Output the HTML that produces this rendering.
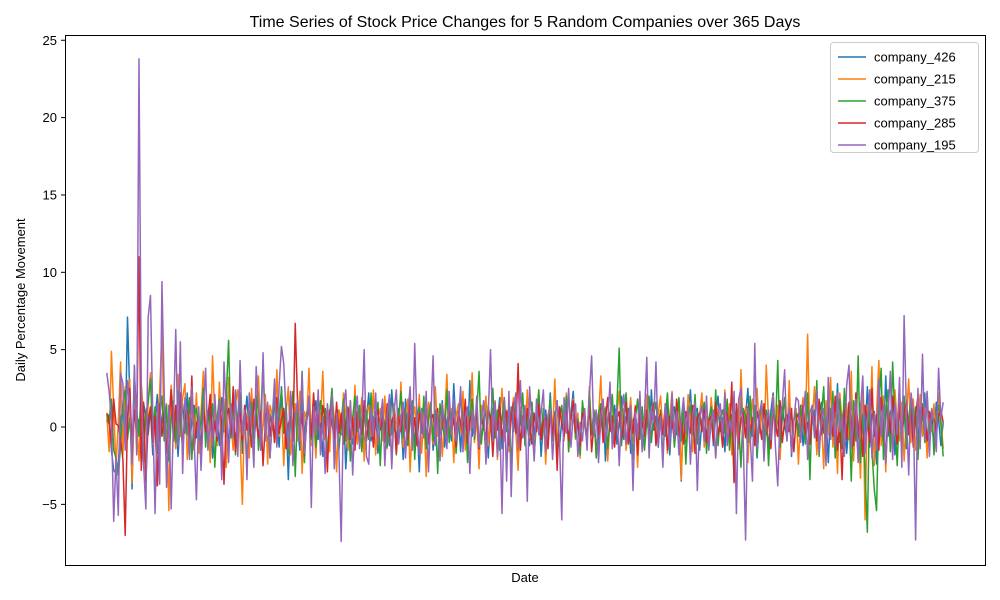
<!DOCTYPE html>
<html><head><meta charset="utf-8"><style>
body{margin:0;background:#fff;}
svg{display:block;font-family:"Liberation Sans","DejaVu Sans",sans-serif;}
</style></head><body>
<svg id="chart" width="1000" height="600" viewBox="0 0 1000 600">
<rect width="1000" height="600" fill="#fff"/>
<text x="525" y="27" font-size="16" text-anchor="middle">Time Series of Stock Price Changes for 5 Random Companies over 365 Days</text>
<g id="plot"></g>
<g id="yaxis"></g>
<rect x="65.5" y="35.5" width="920" height="530" fill="none" stroke="#000" stroke-width="1"/>
<text x="525" y="582" font-size="13" text-anchor="middle">Date</text>
<text transform="translate(25,300) rotate(-90)" font-size="13" text-anchor="middle">Daily Percentage Movement</text>
<g id="legend"></g>
</svg>
<script>
const seriesNames = ["company_426","company_215","company_375","company_285","company_195"];
const yTicks = [-5,0,5,10,15,20,25];
const s426 = [0.3,0.8,-1.5,-2.8,-3.0,-2.5,0.5,1.2,-1.0,7.1,2.0,-4.0,3.9,-1.2,0.5,-2.3,1.5,0.8,-0.5,1.2,
-1.8,0.6,2.1,-0.9,0.4,1.7,-1.3,0.2,2.5,-0.8,1.1,-1.9,0.7,1.5,-0.4,2.2,-1.1,0.3,1.4,-0.7,
0.9,-1.5,1.8,0.2,-0.6,1.3,-2.0,0.8,0.5,-1.2,1.9,-0.3,2.4,-1.4,0.6,1.1,-0.9,0.3,1.6,-1.7,
0.4,2.0,-0.5,1.2,-1.1,0.7,2.3,-0.8,0.1,1.5,-1.6,0.9,-0.2,1.8,0.5,-1.3,2.6,-0.4,0.8,-3.4,
1.0,-0.7,1.3,0.2,-1.5,2.1,-0.6,0.9,1.4,-1.0,0.3,1.7,-0.8,0.5,-1.9,1.2,0.6,-0.4,2.0,-1.3,
0.7,1.1,-0.5,1.4,-2.7,0.2,0.9,-1.1,1.6,-0.3,0.8,1.3,-1.4,0.4,2.2,-0.9,0.6,1.0,-1.7,0.3,
1.5,-0.6,0.9,-1.2,2.4,0.1,-0.8,1.2,0.5,-2.1,1.8,-0.4,0.7,1.1,-1.0,0.3,-2.9,0.9,1.4,-0.7,
0.6,1.2,-1.5,0.2,0.8,-0.5,1.7,-1.3,0.4,1.0,-0.9,2.8,-0.2,0.7,-1.6,1.3,0.5,-1.1,3.0,-0.6,
0.4,1.1,-1.3,0.8,-0.2,1.5,-2.0,0.6,1.2,-0.7,0.3,1.9,-1.4,0.5,0.9,-0.8,1.3,-0.3,2.1,-1.6,
0.7,-0.4,1.0,0.2,-1.2,1.6,-0.6,0.8,1.4,-1.9,0.3,1.1,-0.5,2.2,-0.9,0.6,1.7,-1.3,0.4,-0.2,
1.2,-1.0,0.9,2.3,-0.7,0.5,-1.5,1.3,0.1,-0.8,1.8,-0.4,0.7,1.0,-1.2,0.3,1.5,-2.2,0.6,0.9,
-0.5,1.4,-1.1,0.2,2.0,-0.8,0.6,1.2,-1.7,0.4,0.8,-0.3,1.6,-1.4,0.5,1.1,-0.9,2.4,-0.2,0.7,
-1.3,1.0,0.3,-0.6,1.5,-1.8,0.8,1.3,-0.5,0.2,-3.5,1.7,-1.0,0.6,2.4,-0.4,0.9,1.2,-1.5,0.3,
1.6,-0.7,0.5,1.0,-1.2,0.8,2.0,-0.3,0.6,-1.6,1.4,0.2,-0.9,1.1,0.5,-1.3,1.8,-0.4,0.7,2.5,
-1.0,0.3,1.2,-2.0,0.6,1.5,-0.8,0.4,-1.4,1.0,2.2,-0.5,0.8,-1.1,1.3,0.1,-0.7,1.7,-1.9,0.5,
0.9,-0.3,1.4,-1.2,0.6,2.1,-0.8,0.3,1.1,-1.5,0.7,1.6,-0.4,0.9,-2.3,1.2,0.4,-0.6,2.8,-1.0,
0.5,1.3,-1.7,0.2,1.8,-0.9,0.6,-2.1,1.5,0.3,-0.5,2.6,-1.3,0.8,1.0,-2.4,1.7,0.4,-1.1,3.3,
-0.6,0.9,1.5,-1.8,0.2,2.0,-0.7,1.1,-1.4,0.5,1.8,-0.3,0.7,-1.0,1.3,0.4,2.2,-1.6,0.8,0.1,
-0.9,1.6,0.5,-1.2,0.3];
const s215 = [0.8,-1.6,4.9,1.2,-2.5,0.3,4.2,-1.8,2.6,-0.5,3.1,-3.6,1.4,0.2,-2.2,2.8,0.6,-3.4,1.7,3.5,
-1.1,0.4,-3.8,2.3,6.2,-0.9,1.5,-5.4,2.7,0.8,-1.4,3.4,-0.6,1.9,2.8,-2.1,0.5,1.3,-0.8,2.2,
-1.7,0.9,3.6,-0.4,1.1,-2.3,4.6,0.7,-1.2,2.9,-0.3,1.8,-2.6,3.2,0.4,-1.5,1.6,2.4,-0.7,-5.0,
1.3,0.6,-2.0,2.5,-0.5,1.9,3.3,-1.3,0.2,2.1,-2.4,1.4,0.8,-1.0,3.7,-0.6,1.2,-2.5,0.9,2.6,
-1.8,0.4,1.5,-0.9,2.3,-3.0,1.0,0.5,3.8,-1.2,0.7,-2.0,1.6,0.3,3.6,-0.8,1.4,-1.6,2.0,0.6,
-2.9,1.1,-0.4,2.2,0.8,-1.5,1.7,-0.7,2.7,-1.1,0.3,1.9,-2.2,0.9,1.4,-0.6,2.4,-1.8,0.5,1.2,
-0.9,2.0,-1.4,0.7,-2.5,1.5,0.2,-0.8,2.9,-1.3,0.6,1.8,-2.9,0.4,1.3,-0.5,2.1,-1.7,0.8,-3.2,
1.6,0.3,-1.1,2.6,-0.6,1.0,-1.9,0.5,3.4,-0.8,1.2,-2.3,0.7,1.5,-0.4,2.3,-1.5,0.9,-0.2,3.5,
-1.0,0.6,-2.7,1.4,0.3,2.0,-1.2,0.8,-0.5,1.7,-2.1,0.4,2.5,-0.9,1.1,-1.6,0.6,1.9,-0.3,-2.8,
1.3,0.5,-1.0,2.4,-0.7,1.6,-1.8,0.2,2.1,-0.6,1.0,-2.4,0.8,1.4,-0.4,3.1,-1.3,0.7,1.2,-0.9,
2.2,-1.6,0.4,1.8,-0.8,0.9,-2.0,1.5,0.3,-1.2,2.6,-0.5,1.1,-1.9,0.6,3.3,-0.7,1.3,-2.2,0.5,
1.7,-1.1,0.8,2.3,-0.4,1.2,-1.5,0.2,1.9,-0.9,1.4,-2.6,0.7,1.0,-0.6,2.1,-1.4,0.5,1.6,-1.0,
0.9,2.0,-0.3,1.3,-1.7,0.6,2.3,-1.2,0.4,1.8,-3.4,1.1,-0.8,2.1,0.3,-1.6,1.5,-0.5,0.8,2.2,
-1.3,0.7,-0.9,1.9,0.4,-2.0,1.2,0.6,-1.1,2.4,-0.6,1.5,-1.8,0.9,0.2,-1.4,3.7,-0.7,1.3,-2.3,
0.5,1.8,-1.0,2.5,-0.4,1.1,-1.7,4.0,0.3,-1.2,2.0,-0.6,1.4,-2.1,0.8,1.6,-0.9,3.0,-1.5,0.5,
1.2,-2.4,0.7,1.9,-0.3,6.0,-1.1,0.4,2.6,-1.8,1.0,0.6,-2.7,1.7,-0.5,3.2,-1.3,0.8,-3.0,2.2,
0.4,-1.6,1.5,-0.8,3.6,-2.2,1.1,0.3,-3.3,2.8,-6.0,1.4,-0.7,3.9,-2.5,0.9,4.3,-1.2,2.0,-2.9,
1.3,0.5,-1.7,2.4,0.2,-0.9,1.6,-2.2,0.7,3.1,-1.0,1.8,-1.5,0.4,2.1,-0.6,1.2,-2.0,0.9,-0.3,
1.5,-1.1,2.2,0.6,-1.4];
const s375 = [0.5,0.2,1.8,-1.5,-2.0,-3.1,-1.2,1.5,2.4,-0.8,0.6,-1.9,3.2,1.1,-0.6,2.7,-2.3,0.9,1.6,3.1,
-0.4,1.3,-1.7,0.8,2.0,-0.9,1.4,-2.2,0.5,1.7,-1.0,2.3,0.3,-1.4,1.1,-0.5,1.9,-2.1,0.7,1.2,
-0.8,0.4,2.5,-1.3,0.9,-0.2,1.5,-2.6,0.6,1.8,-1.1,0.3,2.1,5.6,-0.7,1.4,-1.8,0.8,2.2,-0.4,
1.0,-2.4,0.5,1.6,-0.9,2.0,-1.5,0.7,4.2,-0.6,1.3,-2.0,0.4,1.9,-1.2,0.8,2.4,-0.3,1.5,-1.7,
0.6,2.3,-3.2,1.1,-0.5,3.6,-2.3,0.9,1.4,-0.8,2.1,-1.3,0.5,1.7,-0.4,1.2,-2.0,0.8,2.5,-0.6,
1.0,-1.5,0.3,1.8,-0.9,1.3,-2.2,0.6,2.0,-0.3,1.4,-1.6,0.7,1.1,-0.8,2.2,-1.1,0.4,1.6,-2.5,
0.9,0.2,-1.3,1.9,-0.5,1.2,-1.8,0.6,2.3,-0.7,1.0,-1.2,0.4,1.7,-2.1,0.8,1.3,-0.4,2.0,-1.4,
0.5,1.6,-0.9,1.1,-3.0,1.5,0.3,-0.6,2.4,-1.0,0.8,1.3,-1.7,0.4,2.1,-0.5,1.2,-2.3,0.7,1.8,
-0.8,1.0,3.6,-1.1,0.6,-2.0,1.4,0.2,2.5,-0.7,1.1,-1.5,0.5,1.9,-0.3,1.3,-2.6,0.8,1.5,-0.9,
0.4,2.2,-1.2,0.9,-0.5,1.6,-1.9,0.7,2.4,-0.6,1.2,-1.3,0.3,1.8,-0.8,1.0,-2.2,0.6,1.4,-0.4,
2.0,-1.6,0.8,1.3,-0.7,0.5,-1.8,1.7,0.2,-1.0,2.3,-0.5,1.1,-2.0,0.9,1.5,-0.3,1.2,-1.4,0.6,
2.1,-0.9,1.4,5.1,-1.2,0.7,2.2,-0.6,1.0,-2.1,0.5,1.8,-0.8,1.3,-1.5,0.4,2.0,-1.0,0.8,1.6,
-0.4,1.1,-1.9,0.6,2.2,-0.7,1.5,-1.3,0.3,1.9,-0.9,1.2,-2.4,0.7,1.4,-0.5,2.1,-1.1,0.9,-0.2,
1.6,-1.7,0.5,1.3,-0.8,2.4,-1.2,0.6,1.1,-0.4,1.8,-1.5,0.8,-3.5,1.5,0.2,-2.6,1.2,0.7,-1.0,
2.0,-0.6,1.4,-1.8,0.5,1.7,-0.9,1.1,-2.5,0.8,1.4,-0.3,4.3,-1.3,0.6,1.9,-0.7,1.0,-1.6,0.4,
0.9,-0.6,1.2,0.3,-1.1,
2.2,-3.4,1.3,-0.5,3.0,-1.9,0.7,2.6,-1.2,1.5,-0.8,2.3,-2.0,0.6,1.8,-1.4,2.5,-0.6,1.1,-3.5,
1.7,-0.9,4.6,-2.3,0.8,-2.9,-6.8,2.1,-1.5,-4.0,-5.4,1.4,3.8,-2.1,0.9,2.4,-1.6,4.2,0.5,-2.5,
1.6,-0.7,2.0,-1.2,0.6,1.8,-0.4,1.3,-2.1,0.8,1.5,-1.0,2.2,-0.5,1.1,-1.8,0.7,1.4,0.2,-1.9];
const s285 = [0.9,0.3,-1.2,1.8,0.2,0.1,-0.8,-2.1,-7.0,0.6,2.5,-1.4,1.1,-0.5,11.0,-2.8,1.6,-3.6,0.4,1.3,
-1.0,0.7,-3.8,1.5,-0.6,0.9,-1.7,0.3,2.4,-0.9,1.4,-0.4,2.2,-1.3,0.5,1.1,-0.7,3.3,-1.5,0.2,
0.8,-2.2,1.3,-0.3,0.6,2.1,-1.1,0.4,-0.9,1.6,0.3,-3.7,0.7,1.2,-0.5,2.6,-1.6,0.5,0.9,-0.8,
1.4,-0.2,0.6,-1.3,1.8,0.4,-0.7,1.0,-2.5,0.3,1.5,-0.6,0.8,-1.0,1.9,-0.4,0.5,1.2,-1.4,0.2,
0.7,-0.9,6.7,1.6,-0.5,0.9,-1.8,0.4,1.3,-0.6,2.2,-0.3,0.8,-1.2,1.4,0.5,-2.9,1.1,0.2,-0.7,
1.6,-0.4,0.9,-1.1,0.3,1.2,-0.8,0.6,-1.5,1.0,0.2,-0.5,1.7,-0.9,0.4,0.8,-1.3,0.5,1.1,-0.2,
0.6,-1.0,1.5,-0.6,0.3,0.9,-1.7,0.7,-0.3,1.3,0.1,-0.8,2.0,-0.5,0.6,-1.2,0.9,0.3,-0.7,1.4,
-1.1,0.5,0.8,-0.4,1.2,-1.6,0.3,0.7,-0.9,1.5,-0.3,0.6,-1.3,1.0,0.2,-0.6,1.8,-1.0,0.4,0.9,
-0.5,1.3,-1.4,0.5,0.2,-0.8,1.1,0.6,-1.9,0.8,-0.2,1.4,-0.7,0.3,1.0,-1.2,0.6,1.6,-0.4,4.1,
-1.5,0.7,-0.6,1.2,0.3,-1.1,0.9,-0.3,1.5,-0.8,0.4,0.6,-1.4,1.1,-0.5,0.8,-2.8,1.3,0.2,-0.6,
1.0,-0.9,0.5,1.7,-0.4,0.3,-1.2,0.9,0.6,-0.7,1.4,-1.6,0.2,0.8,-0.5,1.2,-1.0,0.4,1.9,-0.3,
0.7,-1.3,0.5,1.0,-0.8,0.3,1.6,-1.1,0.6,-0.4,1.3,-1.8,0.8,0.2,-0.6,1.1,-0.9,0.5,1.5,-1.2,
0.4,0.9,-0.5,1.2,-1.5,0.7,0.3,-0.8,1.8,-0.6,0.5,-1.1,1.0,0.2,-0.4,1.4,-1.7,0.6,0.9,-0.3,
1.1,-1.0,0.4,0.7,-0.9,1.6,-0.5,0.3,-1.3,1.2,0.8,-0.6,2.9,-3.6,1.5,-1.1,0.5,0.9,-0.7,1.3,
-0.4,0.6,-1.2,1.0,0.3,-0.8,1.5,-0.5,0.7,-1.4,1.1,0.2,-0.6,1.7,-1.0,0.4,0.8,-0.3,1.2,-1.6,
0.5,0.9,-0.7,1.4,-0.4,0.3,-1.1,1.0,0.6,-0.9,1.8,-0.5,0.4,-1.3,1.2,0.7,-0.6,2.0,-1.5,0.3,
-3.4,1.1,-0.8,1.6,0.4,-1.2,2.2,-0.7,0.9,-1.9,1.4,0.5,-1.0,2.5,-0.6,0.8,-1.5,1.9,0.3,-2.2,
1.2,-0.4,2.0,0.6,-1.1,1.5,-0.8,0.9,1.7,-0.5,1.1,-1.3,0.7,2.0,-0.6,1.3,0.4,-0.9,1.0,0.2,
0.5,-0.3,0.8,1.1,0.3];
const s195 = [3.5,2.3,0.5,-6.1,-2.0,-5.7,3.5,2.8,-1.5,3.0,1.2,-2.4,4.0,-1.8,23.8,2.5,-2.4,-5.3,7.1,8.5,
0.8,-5.6,1.5,-3.7,9.4,2.1,-3.9,1.4,-5.3,0.4,6.3,-1.2,5.5,-3.0,1.9,0.6,-2.1,2.6,-0.8,-4.7,
1.3,-2.8,0.9,3.8,-1.5,0.4,-1.2,2.1,-0.6,1.7,-3.4,4.2,0.8,-2.3,1.5,-0.7,2.4,-1.9,4.3,-0.5,
1.1,-3.4,2.2,0.3,-2.6,3.9,1.2,-1.5,4.8,-0.9,1.6,-2.0,0.5,3.1,-1.3,2.7,5.2,4.1,0.8,-1.4,
2.3,-2.5,0.6,1.8,-0.9,3.5,-1.7,0.4,2.0,-5.2,1.3,-0.5,2.4,-1.8,0.7,-3.0,1.5,-0.4,2.1,-2.7,
0.9,-1.6,-7.4,1.2,2.4,-0.8,1.7,-3.1,0.5,2.0,-1.4,0.6,5.0,-1.9,-2.4,1.3,-0.6,2.2,-1.2,0.4,
1.8,-2.5,0.7,2.1,-2.7,1.0,2.4,-1.1,0.5,1.6,-2.0,0.8,2.6,-1.5,5.4,0.3,-1.8,1.2,-0.7,2.3,
-2.9,0.6,4.6,-1.2,0.9,-2.2,1.5,0.3,-1.4,2.3,-0.5,1.8,-0.9,0.4,2.6,-1.6,0.7,1.3,-3.0,1.1,
-0.6,2.0,-1.3,0.5,1.7,-2.4,0.8,5.0,-0.9,1.6,-1.9,0.4,-5.6,1.9,-3.5,2.3,-4.5,1.1,2.2,-1.3,
3.0,-0.7,1.4,-4.8,2.6,0.3,-2.2,1.8,-0.5,0.9,2.4,-1.6,0.7,1.2,-2.1,0.5,1.6,-0.8,-6.0,1.9,
-0.4,2.5,-1.3,0.8,1.5,-1.9,0.3,-0.9,1.2,-1.5,2.0,4.6,-0.6,1.1,-2.3,0.7,1.8,-1.0,0.4,2.9,
-1.4,0.6,1.3,-2.5,0.9,2.1,-1.1,0.5,1.4,-4.1,1.0,-0.7,2.3,-1.6,0.8,4.5,-2.0,1.2,0.3,4.2,
-1.2,0.7,-2.6,1.5,0.4,-1.3,2.2,-0.8,1.0,-1.8,0.5,1.9,-0.4,1.3,-2.4,0.8,1.6,-4.1,0.6,1.4,
-0.9,2.0,-1.5,0.4,1.1,-2.0,0.8,1.5,-0.6,2.2,-1.2,0.5,-0.3,2.3,-5.6,1.8,2.5,-1.0,-7.3,1.2,
-0.6,-3.5,5.4,-1.4,0.9,1.6,-2.2,0.5,1.1,-0.8,1.9,-1.3,-3.8,0.7,1.5,3.7,-0.9,1.2,-1.7,0.4,
1.9,1.7,-1.0,0.6,2.3,-2.1,0.9,1.4,-0.7,2.4,-1.6,0.5,1.2,-2.5,3.2,-0.8,1.5,-1.2,2.2,-0.3,
0.8,-1.9,2.7,4.0,-1.4,0.6,1.8,-2.3,1.1,3.3,-1.7,0.4,2.4,-2.0,0.9,-1.5,3.1,-0.6,1.4,-2.4,
0.7,3.6,-2.1,1.5,-0.5,3.2,-2.6,7.2,0.9,-3.1,2.2,1.0,-7.3,2.5,-1.4,4.7,-0.8,2.3,-1.9,1.2,
0.3,-1.6,3.8,0.6,1.6];

const seriesData = [s426, s215, s375, s285, s195];
const colors = ["#1f77b4","#ff7f0e","#2ca02c","#d62728","#9467bd"];
const NS = "http://www.w3.org/2000/svg";
const AX = {x0:65, x1:985, y0:35, y1:565};
const yMin = -8.92, yMax = 25.34;
function yScale(v){ return AX.y1 - (v - yMin) / (yMax - yMin) * (AX.y1 - AX.y0); }
function xScale(i, n){ const w = AX.x1 - AX.x0; const pad = w / 1.1 * 0.05; return AX.x0 + pad + i / (n - 1) * (w - 2 * pad); }

const plot = document.getElementById('plot');
seriesData.forEach((arr, k) => {
  const d = arr.map((v, i) => (i ? 'L' : 'M') + xScale(i, arr.length).toFixed(2) + ' ' + yScale(v).toFixed(2)).join('');
  const p = document.createElementNS(NS, 'path');
  p.setAttribute('d', d);
  p.setAttribute('fill', 'none');
  p.setAttribute('stroke', colors[k]);
  p.setAttribute('stroke-width', '1.5');
  p.setAttribute('stroke-linejoin', 'round');
  
  
  plot.appendChild(p);
});

const yaxis = document.getElementById('yaxis');
yTicks.forEach(t => {
  const y = yScale(t);
  const ln = document.createElementNS(NS, 'line');
  ln.setAttribute('x1', 61); ln.setAttribute('x2', 65);
  ln.setAttribute('y1', y); ln.setAttribute('y2', y);
  ln.setAttribute('stroke', '#000');
  
  
  yaxis.appendChild(ln);
  const tx = document.createElementNS(NS, 'text');
  tx.setAttribute('x', 57); tx.setAttribute('y', y + 4.5);
  tx.setAttribute('font-size', '13'); tx.setAttribute('text-anchor', 'end');
  tx.textContent = t < 0 ? '\u2212' + Math.abs(t) : String(t);
  
  
  yaxis.appendChild(tx);
});

const legend = document.getElementById('legend');
const box = document.createElementNS(NS, 'rect');
box.setAttribute('x', 830.5); box.setAttribute('y', 42.5);
box.setAttribute('width', 148); box.setAttribute('height', 110);
box.setAttribute('rx', 3); box.setAttribute('fill', '#fff'); box.setAttribute('fill-opacity', '0.8');
box.setAttribute('stroke', '#ccc');


legend.appendChild(box);
seriesNames.forEach((nm, k) => {
  const y = 57 + k * 22;
  const g = document.createElementNS(NS, 'g');
  
  
  const ln = document.createElementNS(NS, 'line');
  ln.setAttribute('x1', 838); ln.setAttribute('x2', 866);
  ln.setAttribute('y1', y); ln.setAttribute('y2', y);
  ln.setAttribute('stroke', colors[k]); ln.setAttribute('stroke-width', '1.5');
  
  
  g.appendChild(ln);
  const tx = document.createElementNS(NS, 'text');
  tx.setAttribute('x', 874); tx.setAttribute('y', y + 4.5);
  tx.setAttribute('font-size', '13');
  tx.textContent = nm;
  
  
  g.appendChild(tx);
  legend.appendChild(g);
});
</script>
</body></html>
